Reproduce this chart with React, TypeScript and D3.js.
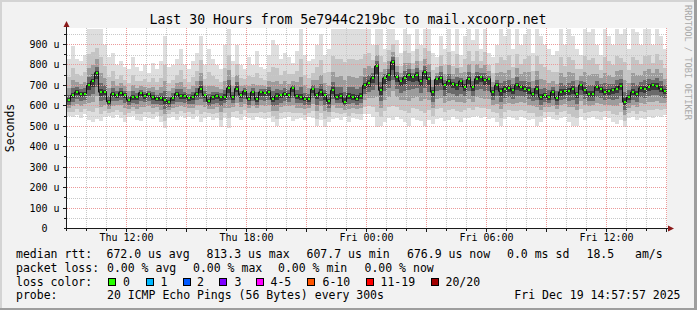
import React from 'react';
import * as d3 from 'd3';

const W = 697;
const H = 310;

const startTime = new Date(2025, 11, 18, 9, 0, 0);
const endTime = new Date(2025, 11, 19, 15, 0, 0);
const stepMinutes = 12;

// median rtt (microseconds), one per 12-minute step
const medianUs = [
  627, 651, 667, 659, 659, 700, 720, 762, 667, 667, 619, 659, 651, 664, 654, 627, 643, 643, 664, 648, 659, 643, 635, 638, 627,
  619, 638, 659, 648, 648, 638, 643, 659, 684, 651, 622, 643, 648, 643, 643, 687, 643, 684, 654, 671, 635, 667, 632, 667, 664,
  667, 632, 648, 651, 659, 651, 687, 648, 643, 635, 632, 680, 651, 667, 651, 622, 676, 643, 648, 619, 648, 643, 635, 648, 700,
  713, 736, 794, 676, 736, 749, 814, 741, 720, 736, 752, 741, 752, 720, 765, 729, 667, 729, 736, 703, 720, 708, 700, 720, 692,
  729, 692, 732, 741, 724, 729, 667, 700, 671, 684, 687, 676, 700, 692, 684, 676, 659, 684, 643, 651, 643, 667, 638, 667, 671,
  671, 684, 659, 700, 676, 659, 659, 692, 684, 667, 671, 676, 684, 697, 619, 643, 667, 659, 687, 684, 692, 700, 697, 684, 671,
];

// highest ping per step (microseconds)
const maxUs = [
  830, 895, 830, 820, 850, 978, 978, 978, 978, 900, 840, 860, 800, 820, 790, 780, 840, 790, 770, 800, 760, 810, 780, 820, 940,
  790, 800, 830, 880, 800, 780, 820, 860, 940, 800, 880, 830, 800, 780, 900, 978, 820, 900, 800, 780, 840, 800, 870, 790, 780,
  850, 920, 900, 830, 860, 840, 810, 870, 978, 850, 820, 830, 900, 950, 850, 880, 978, 978, 978, 978, 978, 978, 978, 978, 978,
  978, 900, 978, 978, 880, 978, 978, 920, 860, 978, 950, 870, 978, 900, 978, 978, 860, 840, 940, 880, 978, 870, 978, 850, 940,
  978, 920, 978, 880, 978, 860, 840, 900, 978, 940, 978, 880, 978, 900, 950, 978, 860, 978, 940, 900, 880, 850, 870, 978, 900,
  978, 940, 880, 850, 978, 960, 978, 900, 850, 978, 940, 900, 978, 950, 978, 880, 978, 960, 900, 978, 978, 900, 978, 940, 880,
];

// lowest ping per step (microseconds)
const minUs = [
  550, 545, 555, 540, 560, 530, 520, 535, 525, 545, 550, 540, 555, 540, 520, 545, 550, 530, 525, 545, 540, 535, 550, 520, 490,
  540, 545, 530, 550, 540, 545, 535, 550, 520, 540, 545, 530, 540, 495, 540, 490, 545, 540, 530, 550, 540, 530, 545, 540, 535,
  540, 520, 500, 535, 540, 545, 525, 535, 540, 530, 545, 540, 500, 530, 495, 520, 535, 540, 530, 545, 520, 540, 535, 530, 560,
  560, 545, 495, 500, 520, 540, 530, 545, 535, 520, 500, 540, 530, 525, 500, 530, 510, 535, 540, 525, 530, 545, 535, 520, 540,
  540, 545, 550, 540, 545, 535, 540, 520, 500, 535, 545, 540, 530, 545, 540, 530, 535, 500, 520, 540, 545, 535, 530, 540, 545,
  520, 500, 500, 545, 530, 540, 545, 535, 530, 545, 540, 520, 510, 530, 495, 540, 545, 530, 540, 535, 545, 540, 550, 545, 555,
];

const yTickValues = [0, 100, 200, 300, 400, 500, 600, 700, 800, 900];
const yTickLabels = ['0  ', '100 u', '200 u', '300 u', '400 u', '500 u', '600 u', '700 u', '800 u', '900 u'];
const xTickTimes = [
  new Date(2025, 11, 18, 12), new Date(2025, 11, 18, 18), new Date(2025, 11, 19, 0),
  new Date(2025, 11, 19, 6), new Date(2025, 11, 19, 12),
];
const xTickLabels = ['Thu 12:00', 'Thu 18:00', 'Fri 00:00', 'Fri 06:00', 'Fri 12:00'];

const titleText = 'Last 30 Hours from 5e7944c219bc to mail.xcoorp.net';
const yAxisTitle = 'Seconds';
const watermark = 'RRDTOOL / TOBI OETIKER';

const rttItems = ['median rtt:', '672.0 us avg', '813.3 us max', '607.7 us min', '676.9 us now', '0.0 ms sd', '18.5', 'am/s'];
const lossItems = ['packet loss:', '0.00 % avg', '0.00 % max', '0.00 % min', '0.00 % now'];
const lossColorLabel = 'loss color:';
const lossLabels = ['0', '1', '2', '3', '4-5', '6-10', '11-19', '20/20'];
const lossColors = ['#26ff00', '#00b8ff', '#0059ff', '#7e00ff', '#ff00ff', '#ff5500', '#ff0000', '#a10000'];
const probeLabel = 'probe:';
const probeText = '20 ICMP Echo Pings (56 Bytes) every 300s';
const dateText = 'Fri Dec 19 14:57:57 2025';

const FONT = '"DejaVu Sans Mono", monospace';

export default function App() {
  const x = d3.scaleTime().domain([startTime, endTime]).range([66.5, 666.5]);
  const y = d3.scaleLinear().domain([0, 978.3]).range([228.5, 28.5]);
  const stepMs = stepMinutes * 60 * 1000;
  const times = medianUs.map((_, i) => new Date(startTime.getTime() + i * stepMs));

  const bands = [
    { up: 1, dn: 1, c: '#dedede' },
    { up: 0.55, dn: 0.75, c: '#c4c4c4' },
    { up: 0.3, dn: 0.5, c: '#9c9c9c' },
    { up: 0.14, dn: 0.3, c: '#6a6a6a' },
    { up: 0.05, dn: 0.13, c: '#383838' },
  ];

  const hourTicks = d3.timeHour.every(1)!.range(startTime, new Date(endTime.getTime() + 1));
  const minorY = d3.range(50, 978, 50);

  const lineGen = d3
    .line<number>()
    .x((_, i) => x(times[i]) + 2)
    .y((d) => y(d))
    .curve(d3.curveStep);

  const rttX = [16, 106.5, 206.5, 306.5, 407, 507, 586.5, 635];
  const lossX = [16, 107, 193, 278, 364.5];
  const boxX = [108, 145.5, 182.5, 219, 256, 307, 365.5, 431];
  const boxLabelX = [123, 160.5, 197, 234.5, 270.5, 322.5, 380.5, 445.5];

  return (
    <svg
      width={W}
      height={H}
      style={{ position: 'absolute', left: 0, top: 0, display: 'block' }}
      fontFamily={FONT}
    >
      <rect x={0} y={0} width={W} height={H} fill="#f2f2f2" />
      <rect x={0} y={0} width={W} height={2} fill="#d4d4d4" />
      <rect x={0} y={0} width={2} height={H} fill="#d4d4d4" />
      <rect x={0} y={H - 2} width={W} height={2} fill="#9e9e9e" />
      <rect x={W - 3} y={0} width={3} height={H} fill="#9e9e9e" />

      <text x={348} y={24} textAnchor="middle" fontSize={13.2} fill="#000">{titleText}</text>

      <text
        transform="translate(685,5) rotate(90)"
        fontSize={8.7}
        fill="#a9a9a9"
      >{watermark}</text>

      <text transform="translate(13.5,128) rotate(-90)" textAnchor="middle" fontSize={11.5} fill="#000">
        {yAxisTitle}
      </text>

      {/* canvas */}
      <rect x={67} y={28} width={600} height={200} fill="#ffffff" />

      <defs>
        <clipPath id="plotclip">
          <rect x={67} y={28} width={600} height={200} />
        </clipPath>
      </defs>

      {/* smoke */}
      <g clipPath="url(#plotclip)" shapeRendering="crispEdges">
        {bands.map((b, bi) => (
          <g key={bi}>
            {medianUs.map((m, i) => {
              const hi = m + b.up * (maxUs[i] - m);
              const lo = m - b.dn * (m - minUs[i]);
              const x0 = x(times[i]) + 0.5;
              const x1 = i + 1 < times.length ? x(times[i + 1]) + 0.5 : 667;
              return (
                <rect
                  key={i}
                  x={x0}
                  y={y(hi)}
                  width={x1 - x0}
                  height={Math.max(0, y(lo) - y(hi))}
                  fill={b.c}
                />
              );
            })}
          </g>
        ))}
      </g>

      {/* grid */}
      <g shapeRendering="crispEdges">
        {minorY.filter((v) => v % 100 !== 0).map((v) => (
          <line key={'my' + v} x1={67} x2={667} y1={Math.round(y(v)) + 0.5} y2={Math.round(y(v)) + 0.5}
            stroke="#c8c8c8" strokeDasharray="1,1" />
        ))}
        {hourTicks.filter((t) => t.getHours() % 3 !== 0).map((t) => (
          <line key={'mx' + t.getTime()} x1={Math.round(x(t) - 0.5) + 0.5} x2={Math.round(x(t) - 0.5) + 0.5} y1={28} y2={228}
            stroke="#c8c8c8" strokeDasharray="1,1" />
        ))}
        {yTickValues.filter((v) => v > 0).map((v) => (
          <line key={'My' + v} x1={67} x2={667} y1={Math.round(y(v) - 0.5) + 0.5} y2={Math.round(y(v) - 0.5) + 0.5}
            stroke="#eb9a9a" strokeDasharray="1,1" />
        ))}
        {hourTicks.filter((t) => t.getHours() % 3 === 0 && t > startTime).map((t) => (
          <line key={'Mx' + t.getTime()} x1={Math.round(x(t) - 0.5) + 0.5} x2={Math.round(x(t) - 0.5) + 0.5} y1={28} y2={228}
            stroke="#eb9a9a" strokeDasharray="1,1" />
        ))}
      </g>

      {/* median */}
      <g clipPath="url(#plotclip)">
        <path d={lineGen(medianUs) || ''} fill="none" stroke="#111" strokeWidth={1} />
        {medianUs.map((m, i) => (
          <rect key={i} x={x(times[i]) + 1} y={y(m) - 1} width={2.5} height={2} fill="#26ff00" shapeRendering="crispEdges" />
        ))}
      </g>

      {/* axes */}
      <g shapeRendering="crispEdges">
        <line x1={66.5} x2={66.5} y1={231} y2={26} stroke="#1a1a1a" />
        <line x1={64} x2={669} y1={228.5} y2={228.5} stroke="#1a1a1a" />
        {minorY.map((v) => (
          <line key={'ty' + v} x1={v % 100 === 0 ? 63 : 64} x2={66} y1={Math.round(y(v) - 0.5) + 0.5} y2={Math.round(y(v) - 0.5) + 0.5} stroke="#1a1a1a" />
        ))}
        {hourTicks.filter((t) => t > startTime).map((t) => (
          <line key={'tx' + t.getTime()} x1={Math.round(x(t) - 0.5) + 0.5} x2={Math.round(x(t) - 0.5) + 0.5}
            y1={229} y2={t.getHours() % 3 === 0 ? 232 : 231} stroke="#1a1a1a" />
        ))}
      </g>
      <polygon points="63.5,27 69.5,27 66.5,21" fill="#8b1a1a" />
      <polygon points="668,225.5 668,231.5 674,228.5" fill="#8b1a1a" />

      {/* y tick labels */}
      {yTickValues.map((v, i) => (
        <text key={'yl' + v} x={59.5} y={Math.round(y(v) - 0.5) + 3.5} textAnchor="end" fontSize={10}
          style={{ whiteSpace: 'pre' }} fill="#000">{yTickLabels[i]}</text>
      ))}

      {/* x tick labels */}
      {xTickTimes.map((t, i) => (
        <text key={'xl' + i} x={x(t)} y={241} textAnchor="middle" fontSize={10} fill="#000">{xTickLabels[i]}</text>
      ))}

      {/* legend */}
      <g fontSize={11.5} fill="#000" style={{ whiteSpace: 'pre' }}>
        {rttItems.map((s, i) => (
          <text key={'r' + i} x={rttX[i]} y={258}>{s}</text>
        ))}
        {lossItems.map((s, i) => (
          <text key={'l' + i} x={lossX[i]} y={271.7}>{s}</text>
        ))}
        <text x={16} y={285.5}>{lossColorLabel}</text>
        {lossLabels.map((s, i) => (
          <g key={'c' + i}>
            <rect x={boxX[i] + 0.5} y={278.5} width={7} height={7} fill={lossColors[i]} stroke="#000" strokeWidth={1}
              shapeRendering="crispEdges" />
            <text x={boxLabelX[i]} y={285.5}>{s}</text>
          </g>
        ))}
        <text x={16} y={299.2}>{probeLabel}</text>
        <text x={107} y={299.2}>{probeText}</text>
        <text x={680.5} y={299.2} textAnchor="end">{dateText}</text>
      </g>
    </svg>
  );
}
